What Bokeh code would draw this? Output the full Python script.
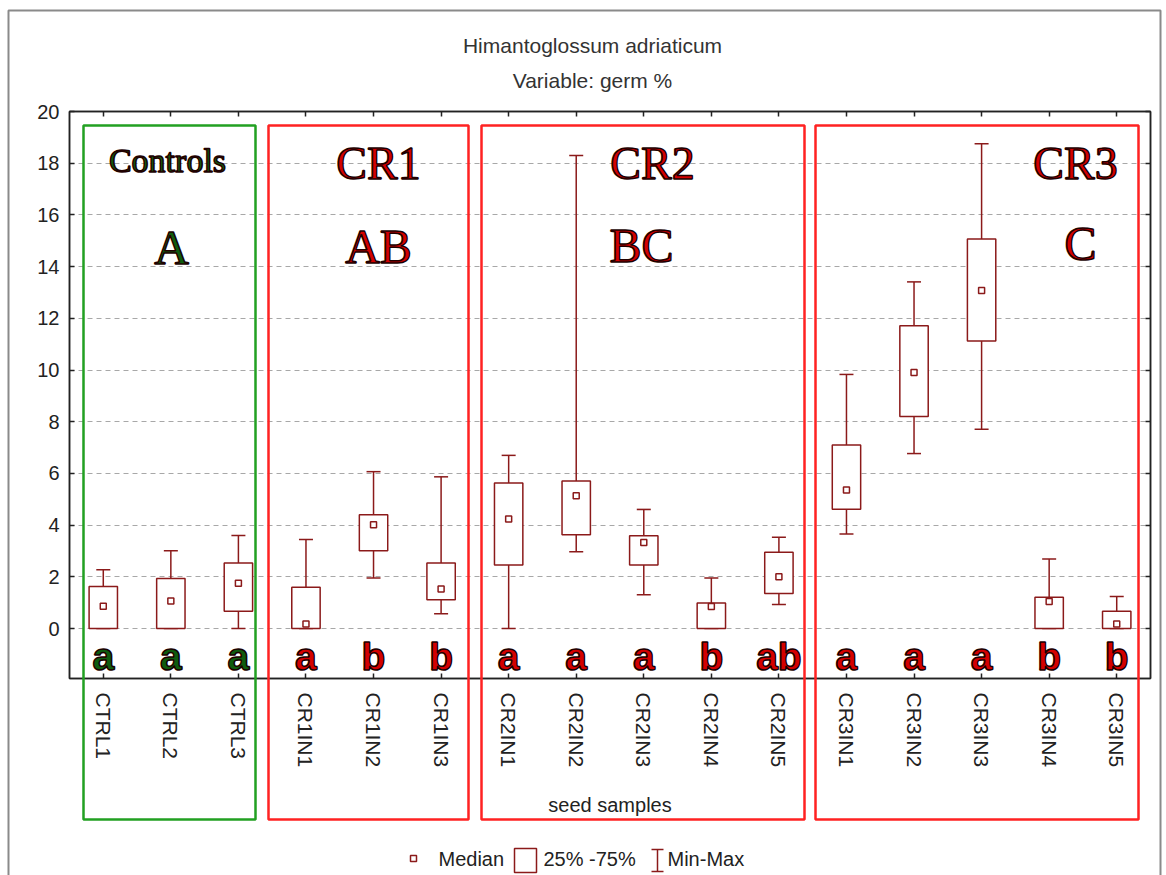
from bokeh.plotting import figure
from bokeh.models import FactorRange, Range1d, FixedTicker, CategoricalAxis, LinearAxis
from bokeh.core.properties import value
from bokeh.embed import file_html
from bokeh.resources import INLINE

# ---- data: germination % per seed sample (min, quartiles, median, max) ----
samples = ["CTRL1", "CTRL2", "CTRL3",
           "CR1IN1", "CR1IN2", "CR1IN3",
           "CR2IN1", "CR2IN2", "CR2IN3", "CR2IN4", "CR2IN5",
           "CR3IN1", "CR3IN2", "CR3IN3", "CR3IN4", "CR3IN5"]
v_min = [0.0, 0.0, 0.0, 0.0, 1.96, 0.57, 0.0, 2.97, 1.31, 0.0, 0.93, 3.66, 6.77, 7.71, 0.0, 0.0]
v_q1 = [0.0, 0.0, 0.67, 0.0, 3.01, 1.12, 2.46, 3.63, 2.46, 0.0, 1.36, 4.62, 8.20, 11.12, 0.0, 0.0]
v_median = [0.86, 1.07, 1.75, 0.18, 4.02, 1.53, 4.24, 5.14, 3.33, 0.85, 2.01, 5.36, 9.91, 13.08, 1.05, 0.18]
v_q3 = [1.63, 1.94, 2.54, 1.60, 4.40, 2.54, 5.63, 5.71, 3.59, 0.99, 2.95, 7.10, 11.71, 15.07, 1.21, 0.67]
v_max = [2.28, 3.01, 3.60, 3.45, 6.07, 5.87, 6.70, 18.30, 4.61, 1.96, 3.53, 9.83, 13.41, 18.75, 2.69, 1.24]
sample_letters = ["a", "a", "a", "a", "b", "b", "a", "a", "a", "b", "ab", "a", "a", "a", "b", "b"]

groups = ["Controls", "CR1", "CR2", "CR3"]
group_letters = ["A", "AB", "BC", "C"]
group_sizes = [3, 3, 5, 5]

y_ticks = [0, 2, 4, 6, 8, 10, 12, 14, 16, 18, 20]

title_lines = ["Himantoglossum adriaticum", "Variable: germ %"]
x_title = "seed samples"
legend_labels = ["Median", "25% -75%", "Min-Max"]

# ---- layout ----
W, H = 1166, 875
FL, FR, FT, FB = 69, 1150, 111, 678          # frame edges in pixels
Y_LO, Y_HI = -1.93, 20

def px_x(px):
    return (px - FL) / (FR - FL) * len(samples)

def px_y(py):
    return Y_HI - (py - FT) / (FB - FT) * (Y_HI - Y_LO)

BOX_C = "#8b1a1a"
GREEN_DARK = "#0e5c0e"
RED_TEXT = "#d40000"
FONT = "Liberation Sans"
SERIF = "Liberation Serif"

p = figure(x_range=FactorRange(factors=samples), y_range=Range1d(Y_LO, Y_HI),
           width=W, height=H, output_backend="svg", toolbar_location=None,
           min_border_left=FL, min_border_right=W - FR,
           min_border_top=FT, min_border_bottom=H - FB,
           background_fill_color="white", border_fill_color="white",
           outline_line_color="#222", outline_line_width=1.5)

# grid
p.xgrid.visible = False
p.ygrid.ticker = FixedTicker(ticks=y_ticks)
p.ygrid.grid_line_color = "#a8a8a8"
p.ygrid.grid_line_dash = "5 4"
p.ygrid.grid_line_width = 1

def style_axis(ax):
    ax.axis_line_color = "#222"
    ax.axis_line_width = 1.5
    ax.major_tick_line_color = "#222"
    ax.major_tick_line_width = 1.5
    ax.major_tick_in = 5
    ax.major_tick_out = 0
    ax.minor_tick_line_color = None
    ax.major_label_text_font = FONT
    ax.major_label_text_font_size = "20px"
    ax.major_label_text_color = "#222"

# left axis
yax = p.yaxis[0]
yax.ticker = FixedTicker(ticks=y_ticks)
style_axis(yax)
yax.major_label_standoff = 10

# bottom axis
xax = p.xaxis[0]
style_axis(xax)
xax.major_label_text_font_size = "21px"
xax.major_label_orientation = "vertical"
xax.major_label_standoff = 14
xax.axis_label = x_title
xax.axis_label_text_font = FONT
xax.axis_label_text_font_size = "20px"
xax.axis_label_text_font_style = "normal"
xax.axis_label_text_color = "#222"
xax.axis_label_standoff = 24

# mirrored tick-only axes on top and right
top_ax = CategoricalAxis()
style_axis(top_ax)
top_ax.major_label_text_color = None
p.add_layout(top_ax, "above")
right_ax = LinearAxis(ticker=FixedTicker(ticks=y_ticks))
style_axis(right_ax)
right_ax.major_label_overrides = {t: "" for t in y_ticks}
p.add_layout(right_ax, "right")

# ---- box plots ----
p.segment(x0=samples, y0=v_q3, x1=samples, y1=v_max, line_color=BOX_C, line_width=1.5)
p.segment(x0=samples, y0=v_min, x1=samples, y1=v_q1, line_color=BOX_C, line_width=1.5)
p.scatter(x=samples, y=v_max, marker="dash", size=14, line_color=BOX_C, line_width=1.5)
p.scatter(x=samples, y=v_min, marker="dash", size=14, line_color=BOX_C, line_width=1.5)
p.vbar(x=samples, bottom=v_q1, top=v_q3, width=0.42, fill_color="white",
       line_color=BOX_C, line_width=1.5)
p.scatter(x=samples, y=v_median, marker="square", size=6, fill_color="white",
          line_color=BOX_C, line_width=1.5)

# per-sample significance letters
letter_colors = []
for g, n in zip(groups, group_sizes):
    letter_colors += [GREEN_DARK if g == "Controls" else RED_TEXT] * n
p.text(x=samples, y=px_y(656), text=sample_letters, text_color=letter_colors,
       text_font=value(FONT), text_font_style="bold", text_font_size="39px",
       text_align="center", text_baseline="alphabetic",
       text_outline_color="#1a0000")

# ---- group frames and labels (drawn above the axes so they reach the tick labels) ----
frame_px = [(83, 255), (268, 468), (481, 804), (815, 1138)]
frame_colors = ["#22a022", "#ff2222", "#ff2222", "#ff2222"]
p.quad(left=[px_x(l) for l, _ in frame_px], right=[px_x(r) for _, r in frame_px],
       top=px_y(125), bottom=px_y(819), fill_color=None,
       line_color=frame_colors, line_width=2.5, level="overlay")

name_px = [(167, 160), (378, 163), (652, 163), (1075, 163)]
letter_px = [(171, 247), (378, 246), (641, 245), (1080, 243)]
name_sizes = ["34px", "46px", "46px", "46px"]
for g, gl, (nx, ny), (lx, ly), fs in zip(groups, group_letters, name_px, letter_px, name_sizes):
    fill = GREEN_DARK if g == "Controls" else RED_TEXT
    p.text(x=[px_x(nx)], y=[px_y(ny)], text=[g], text_color=fill,
           text_font=value(SERIF), text_font_size=fs, text_align="center",
           text_baseline="middle", text_outline_color="#200000")
    p.text(x=[px_x(lx)], y=[px_y(ly)], text=[gl], text_color=fill,
           text_font=value(SERIF), text_font_size="48px", text_align="center",
           text_baseline="middle", text_outline_color="#200000")

# ---- titles ----
p.text(x=[px_x(592)] * 2, y=[px_y(45), px_y(80)], text=title_lines,
       text_align="center", text_baseline="middle", text_font=value(FONT),
       text_font_size="21px", text_color="#333", level="overlay")

# ---- outer frame ----
p.quad(left=[px_x(8)], right=[px_x(1160)], top=[px_y(10)], bottom=[px_y(900)],
       fill_color=None, line_color="#8a8a8a", line_width=2, level="overlay")

# ---- legend ----
LY = 858
p.quad(left=[px_x(410)], right=[px_x(416)], top=[px_y(LY - 3)], bottom=[px_y(LY + 3)],
       fill_color="white", line_color=BOX_C, line_width=1.5, level="overlay")
p.quad(left=[px_x(514)], right=[px_x(536)], top=[px_y(848)], bottom=[px_y(872)],
       fill_color="white", line_color=BOX_C, line_width=1.5, level="overlay")
p.segment(x0=[px_x(657), px_x(651), px_x(651)], y0=[px_y(849), px_y(849), px_y(871)],
          x1=[px_x(657), px_x(663), px_x(663)], y1=[px_y(871), px_y(849), px_y(871)],
          line_color=BOX_C, line_width=1.5, level="overlay")
p.text(x=[px_x(438), px_x(543), px_x(667)], y=px_y(LY), text=legend_labels,
       text_align="left", text_baseline="middle", text_font=value(FONT),
       text_font_size="20px", text_color="#222", level="overlay")

open("out.html", "w").write(file_html(p, INLINE))
